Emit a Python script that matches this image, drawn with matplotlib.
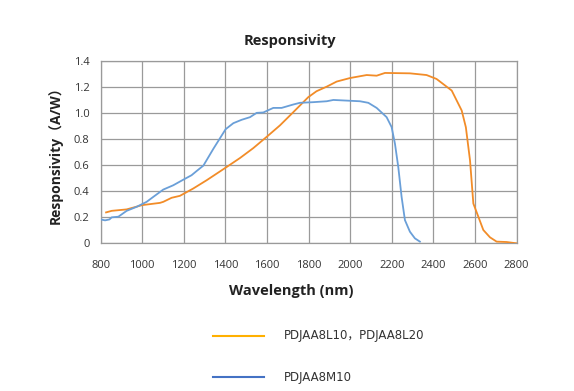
import matplotlib
matplotlib.use('Agg')
import matplotlib.pyplot as plt
from matplotlib.lines import Line2D

plt.rcParams['font.family'] = ['Open Sans', 'DejaVu Sans']

# PDJAA8L10 / PDJAA8L20 (orange)
wl_l = [826, 853, 925, 1000, 1085, 1101, 1141, 1181, 1245, 1310, 1401, 1470, 1534,
        1601, 1662, 1726, 1798, 1838, 1887, 1935, 1999, 2079, 2127, 2167, 2287,
        2367, 2415, 2488, 2536, 2556, 2576, 2592, 2616, 2640, 2672, 2704, 2752, 2800]
resp_l = [0.237, 0.249, 0.26, 0.293, 0.31, 0.318, 0.349, 0.364, 0.42, 0.484, 0.58,
          0.654, 0.73, 0.82, 0.904, 1.005, 1.12, 1.166, 1.201, 1.24, 1.267, 1.29,
          1.285, 1.306, 1.303, 1.29, 1.26, 1.171, 1.018, 0.89, 0.636, 0.305, 0.204,
          0.102, 0.046, 0.013, 0.01, 0.0]

# PDJAA8M10 (blue)
wl_m = [800, 821, 842, 853, 885, 925, 973, 1021, 1053, 1101, 1149, 1201, 1237, 1262,
        1294, 1342, 1401, 1438, 1478, 1518, 1550, 1582, 1630, 1670, 1726, 1758,
        1822, 1887, 1919, 1983, 2047, 2087, 2127, 2175, 2199, 2215, 2231, 2247,
        2263, 2287, 2311, 2335]
resp_m = [0.183, 0.176, 0.183, 0.199, 0.204, 0.249, 0.28, 0.318, 0.356, 0.412, 0.445,
          0.491, 0.522, 0.555, 0.596, 0.725, 0.875, 0.921, 0.947, 0.967, 1.0, 1.003,
          1.038, 1.038, 1.064, 1.077, 1.082, 1.089, 1.099, 1.094, 1.089, 1.077,
          1.038, 0.967, 0.891, 0.764, 0.585, 0.356, 0.178, 0.089, 0.038, 0.013]

xticks = list(range(800, 2801, 200))
yticks = [0, 0.2, 0.4, 0.6, 0.8, 1.0, 1.2, 1.4]
ylabels = ['0', '0.2', '0.4', '0.6', '0.8', '1.0', '1.2', '1.4']

W, H = 574, 391
fig = plt.figure(figsize=(5.74, 3.91), dpi=100)
ax = fig.add_axes([0.1754, 0.3777, 0.7246, 0.4671])

ax.plot(wl_l, resp_l, color='#F28C28', lw=1.3, zorder=3)
ax.plot(wl_m, resp_m, color='#6A9FD8', lw=1.3, zorder=3)

ax.set_xlim(800, 2800)
ax.set_ylim(0, 1.4)
ax.set_xticks(xticks)
ax.set_yticks(yticks)
ax.set_yticklabels(ylabels)
ax.grid(True, color='#9a9a9a', lw=0.9)
ax.tick_params(length=0, labelsize=8, colors='#333333')
ax.tick_params(axis='x', pad=12)
ax.tick_params(axis='y', pad=8)
for s in ax.spines.values():
    s.set_color('#9a9a9a')
    s.set_linewidth(0.9)

# title and x label sit a bit left of the axes centre in the original
fig.text(290 / W, 1 - 41 / H, 'Responsivity', fontsize=10.5, fontweight='bold',
         color='#222222', ha='center', va='center')
fig.text(291 / W, 1 - 291 / H, 'Wavelength (nm)', fontsize=10.5, fontweight='bold',
         color='#222222', ha='center', va='center')
ax.set_ylabel('Responsivity（A/W）', fontsize=10, fontweight='bold', color='#222222',
              labelpad=8, family=['Open Sans', 'Noto Sans CJK SC', 'DejaVu Sans'])

# legend drawn in figure coordinates
fig.add_artist(Line2D([213 / W, 264 / W], [1 - 336 / H, 1 - 336 / H], color='#FFB000', lw=1.5))
fig.add_artist(Line2D([213 / W, 264 / W], [1 - 377 / H, 1 - 377 / H], color='#4472C4', lw=1.5))
fig.text(284 / W, 1 - 336 / H, 'PDJAA8L10，PDJAA8L20', fontsize=8.5, va='center',
         color='#333333', family=['DejaVu Sans', 'Noto Sans CJK SC'])
fig.text(284 / W, 1 - 377 / H, 'PDJAA8M10', fontsize=8.5, va='center',
         color='#333333', family=['DejaVu Sans', 'Noto Sans CJK SC'])

fig.savefig('out.png', dpi=100)
